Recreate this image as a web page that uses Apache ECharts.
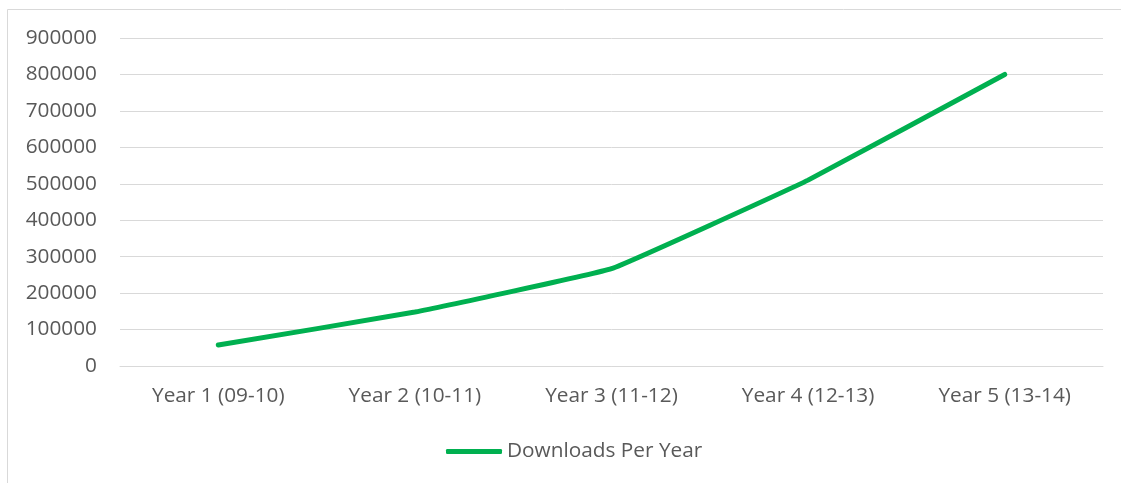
<!DOCTYPE html>
<html>
<head>
<meta charset="utf-8">
<script src="https://cdn.jsdelivr.net/npm/echarts@6/dist/echarts.min.js"></script>
<style>
html,body{margin:0;padding:0;background:#fff;}
#chart{width:1121px;height:483px;}
</style>
</head>
<body>
<div id="chart"></div>
<script>
const categories = ['Year 1 (09-10)', 'Year 2 (10-11)', 'Year 3 (11-12)', 'Year 4 (12-13)', 'Year 5 (13-14)'];
const downloads = [57500, 148000, 267000, 510000, 800000];
const seriesName = 'Downloads Per Year';

const FONT = 'Open Sans';
const chart = echarts.init(document.getElementById('chart'));
chart.setOption({
  animation: false,
  backgroundColor: '#ffffff',
  graphic: [{
    type: 'rect',
    shape: { x: 7.5, y: 9.5, width: 1300, height: 700 },
    style: { fill: 'none', stroke: '#D9D9D9', lineWidth: 1 },
    silent: true
  }],
  grid: { left: 120, right: 18, top: 38, bottom: 117, containLabel: false },
  legend: {
    data: [seriesName],
    left: 446,
    top: 441,
    padding: 0,
    icon: 'roundRect',
    itemWidth: 56,
    itemHeight: 5,
    textStyle: { color: '#595959', fontSize: 20.8, fontFamily: FONT }
  },
  xAxis: {
    type: 'category',
    data: categories,
    boundaryGap: true,
    axisLine: { show: true, lineStyle: { color: '#D9D9D9', width: 1 } },
    axisTick: { show: false },
    axisLabel: { color: '#595959', fontSize: 20.8, fontFamily: FONT, margin: 20 }
  },
  yAxis: {
    type: 'value',
    min: 0,
    max: 900000,
    interval: 100000,
    axisLine: { show: false },
    axisTick: { show: false },
    splitLine: { lineStyle: { color: '#D9D9D9', width: 1 } },
    axisLabel: { color: '#595959', fontSize: 20.8, fontFamily: FONT, margin: 23, formatter: v => String(v) }
  },
  series: [{
    name: seriesName,
    type: 'line',
    data: downloads,
    smooth: 0.08,
    symbol: 'none',
    lineStyle: { color: '#00B050', width: 5, cap: 'round', join: 'round' },
    itemStyle: { color: '#00B050' }
  }]
});
</script>
</body>
</html>
